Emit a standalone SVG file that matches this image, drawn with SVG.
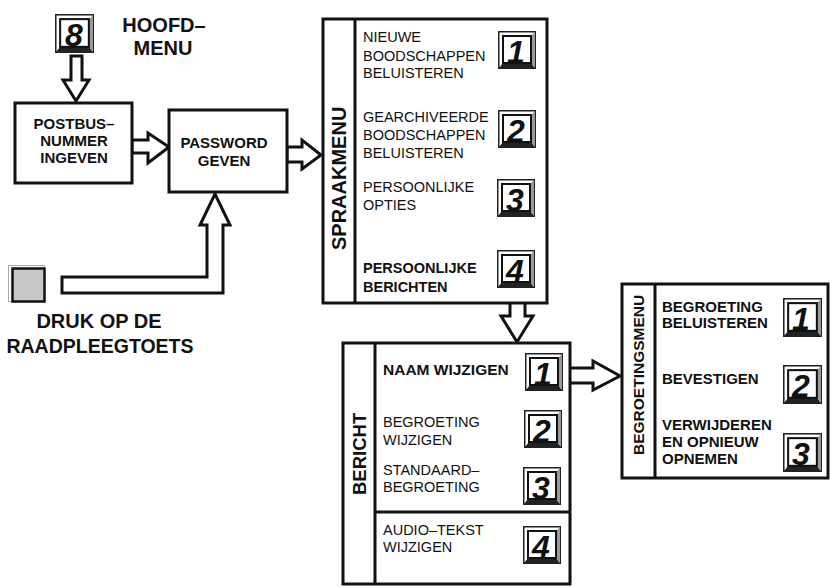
<svg xmlns="http://www.w3.org/2000/svg" width="830" height="587" viewBox="0 0 830 587">
<style>
.box{fill:#fff;stroke:#111;stroke-width:3}
.div{stroke:#111;stroke-width:3;fill:none}
.arr{fill:#fff;stroke:#111;stroke-width:3;stroke-linejoin:miter}
.b{font-family:"Liberation Sans",Arial,sans-serif;font-weight:bold;fill:#111}
.r{font-family:"Liberation Sans",Arial,sans-serif;fill:#111;font-size:14.5px}
.t{font-size:15px}
.num{font-family:"Liberation Sans",Arial,sans-serif;font-weight:bold;font-style:italic;font-size:32px;fill:#111;text-anchor:middle}
</style>
<defs>
<symbol id="key" viewBox="0 0 38 38">
<rect x="0.75" y="0.75" width="36.5" height="36.5" fill="#fff" stroke="#222" stroke-width="1.5"/>
<polygon points="1,37 37,37 33,32 5,32" fill="#222"/>
<polygon points="37,1 37,37 33,32 33,5" fill="#999"/>
<rect x="5" y="5" width="28" height="27" fill="#fff" stroke="#111" stroke-width="2"/>
</symbol>
</defs>

<g id="connectors">
<polygon class="arr" points="71,56 82,56 82,80 89,80 76,101 63,80 71,80"/>
<polygon class="arr" points="132,140 148,140 148,133 169,147 148,163 148,153 132,153"/>
<polygon class="arr" points="287,147 302,147 302,140 321,155 302,169 302,162 287,162"/>
<polygon class="arr" points="510,290 525,290 525,316 533,316 517,342 501,316 510,316"/>
<polygon class="arr" points="562,368 593,368 593,361 620,376 593,390 593,383 562,383"/>
<polygon class="arr" points="62,277 207,277 207,225 200,225 215,194 230,225 223,225 223,293 62,293"/>
</g>

<g id="key8">
<use href="#key" x="55" y="14" width="39" height="39"/>
<text class="num" x="74" y="46">8</text>
</g>

<g id="hoofdmenu">
<text class="b" font-size="20" text-anchor="middle" x="164" y="32">HOOFD–</text>
<text class="b" font-size="20" text-anchor="middle" x="163" y="55">MENU</text>
</g>

<g id="postbus">
<rect class="box" x="15" y="103" width="117" height="80"/>
<text class="b t" text-anchor="middle" x="74" y="129">POSTBUS–</text>
<text class="b t" text-anchor="middle" x="74" y="146">NUMMER</text>
<text class="b t" text-anchor="middle" x="74" y="163">INGEVEN</text>
</g>

<g id="password">
<rect class="box" x="169" y="110" width="118" height="82"/>
<text class="b t" text-anchor="middle" x="224" y="148">PASSWORD</text>
<text class="b t" text-anchor="middle" x="224" y="166">GEVEN</text>
</g>

<g id="raadpleegtoets">
<rect x="8.5" y="265.5" width="36" height="36" fill="#fff" stroke="#aaa" stroke-width="1"/>
<rect x="12.5" y="268.5" width="32" height="33" fill="#c8c8c8" stroke="#111" stroke-width="2.5"/>
<text class="b" font-size="20" text-anchor="middle" x="99" y="328">DRUK OP DE</text>
<text class="b" font-size="19.5" text-anchor="middle" x="100" y="353">RAADPLEEGTOETS</text>
</g>

<g id="spraakmenu">
<rect class="box" x="323" y="19" width="224" height="284"/>
<line class="div" x1="355" y1="19" x2="355" y2="303"/>
<text class="b" font-size="20" transform="translate(346,250) rotate(-90)">SPRAAKMENU</text>
<text class="r" x="363" y="42">NIEUWE</text>
<text class="r" x="363" y="61">BOODSCHAPPEN</text>
<text class="r" x="363" y="78">BELUISTEREN</text>
<use href="#key" x="498" y="31" width="38" height="38"/>
<text class="num" x="516" y="63">1</text>
<text class="r" x="363" y="122">GEARCHIVEERDE</text>
<text class="r" x="363" y="140">BOODSCHAPPEN</text>
<text class="r" x="363" y="158">BELUISTEREN</text>
<use href="#key" x="498" y="110" width="38" height="38"/>
<text class="num" x="516" y="142">2</text>
<text class="r" x="363" y="192">PERSOONLIJKE</text>
<text class="r" x="363" y="210">OPTIES</text>
<use href="#key" x="497" y="179" width="38" height="38"/>
<text class="num" x="515" y="211">3</text>
<text class="b" font-size="14.5" x="363" y="273">PERSOONLIJKE</text>
<text class="b" font-size="14.5" x="363" y="292">BERICHTEN</text>
<use href="#key" x="497" y="250" width="38" height="38"/>
<text class="num" x="515" y="282">4</text>
</g>

<g id="bericht">
<rect class="box" x="343" y="343" width="227" height="241"/>
<line class="div" x1="375" y1="343" x2="375" y2="584"/>
<line class="div" x1="375" y1="512" x2="570" y2="512"/>
<text class="b" font-size="18.5" transform="translate(366,495) rotate(-90)">BERICHT</text>
<text class="b" font-size="15.5" x="383" y="375">NAAM WIJZIGEN</text>
<use href="#key" x="525" y="353" width="38" height="38"/>
<text class="num" x="543" y="385">1</text>
<text class="r" x="383" y="427">BEGROETING</text>
<text class="r" x="383" y="445">WIJZIGEN</text>
<use href="#key" x="524" y="410" width="38" height="38"/>
<text class="num" x="542" y="442">2</text>
<text class="r" x="383" y="475">STANDAARD–</text>
<text class="r" x="383" y="492">BEGROETING</text>
<use href="#key" x="523" y="467" width="38" height="38"/>
<text class="num" x="541" y="499">3</text>
<text class="r" x="383" y="535">AUDIO–TEKST</text>
<text class="r" x="383" y="552">WIJZIGEN</text>
<use href="#key" x="523" y="526" width="38" height="38"/>
<text class="num" x="541" y="558">4</text>
</g>

<g id="begroetingsmenu">
<rect class="box" x="622" y="284" width="206" height="194"/>
<line class="div" x1="655" y1="284" x2="655" y2="478"/>
<text class="b" font-size="15.5" transform="translate(644,455) rotate(-90)">BEGROETINGSMENU</text>
<text class="b t" x="662" y="312">BEGROETING</text>
<text class="b t" x="662" y="328">BELUISTEREN</text>
<use href="#key" x="783" y="298" width="39" height="39"/>
<text class="num" x="801" y="330">1</text>
<text class="b t" x="662" y="384">BEVESTIGEN</text>
<use href="#key" x="783" y="365" width="39" height="39"/>
<text class="num" x="801" y="397">2</text>
<text class="b t" x="662" y="430">VERWIJDEREN</text>
<text class="b t" x="662" y="447">EN OPNIEUW</text>
<text class="b t" x="662" y="464">OPNEMEN</text>
<use href="#key" x="783" y="433" width="39" height="39"/>
<text class="num" x="801" y="465">3</text>
</g>
</svg>
